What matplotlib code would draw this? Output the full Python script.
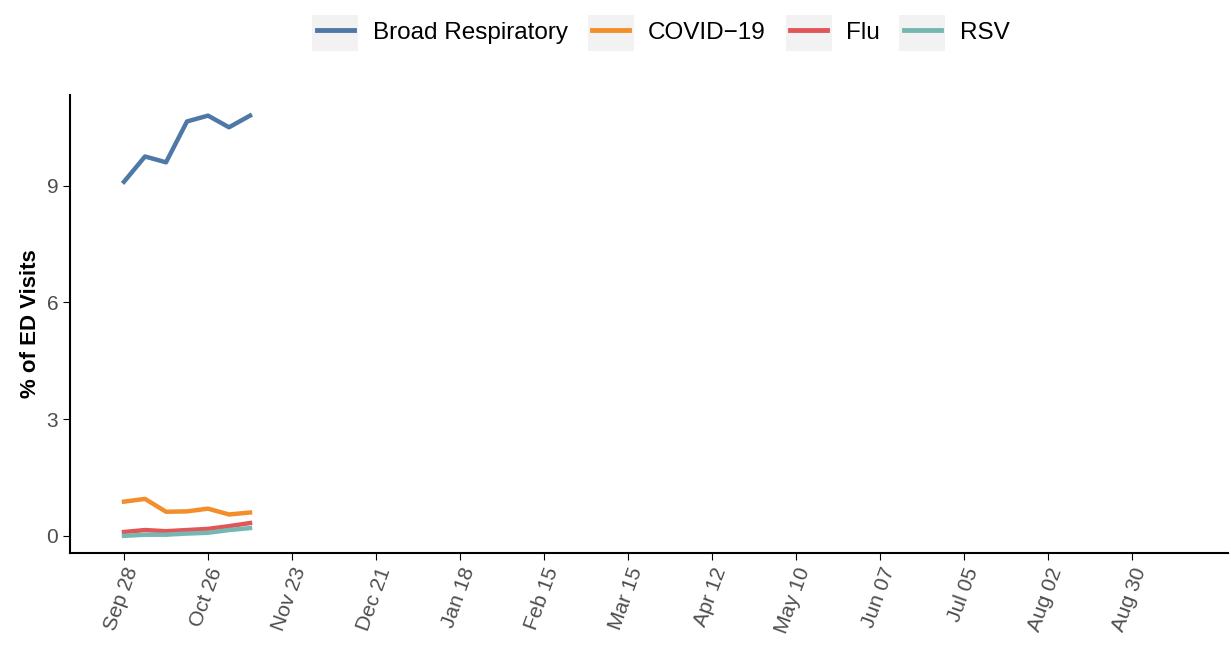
import matplotlib.pyplot as plt
import matplotlib.patches as mpatches
import datetime as dt

plt.rcParams['font.family'] = ['Liberation Sans', 'DejaVu Sans']

weeks = [dt.date(2024, 9, 28) + dt.timedelta(days=7 * i) for i in range(7)]
broad = [9.1, 9.75, 9.6, 10.65, 10.8, 10.5, 10.8]
covid = [0.88, 0.95, 0.62, 0.63, 0.70, 0.55, 0.60]
flu = [0.10, 0.15, 0.12, 0.15, 0.18, 0.25, 0.33]
rsv = [0.00, 0.03, 0.03, 0.06, 0.08, 0.15, 0.20]
series = [("Broad Respiratory", broad, "#4E79A7"), ("COVID\u221219", covid, "#F28E2B"),
          ("Flu", flu, "#E15759"), ("RSV", rsv, "#76B7B2")]
tick_dates = [dt.date(2024, 9, 28) + dt.timedelta(days=28 * i) for i in range(13)]
tick_labels = [d.strftime("%b %d") for d in tick_dates]

fig = plt.figure(figsize=(12.31, 6.56), dpi=100)
ax = fig.add_axes([70 / 1231, 1 - 553 / 656, 1158 / 1231, (553 - 95) / 656])
for name, vals, col in series:
    ax.plot(weeks, vals, color=col, lw=3.2, label=name)

ax.set_xlim(dt.date(2024, 9, 10), dt.date(2025, 10, 1))
ax.set_ylim(-0.44, 11.33)
ax.set_xticks(tick_dates)
ax.set_xticklabels(tick_labels, rotation=70, ha="right", rotation_mode="anchor",
                   fontsize=15, color="#4d4d4d")
ax.set_yticks([0, 3, 6, 9])
ax.tick_params(axis="y", labelsize=15, labelcolor="#4d4d4d", length=5)
ax.tick_params(axis="x", length=5)
for s in ["top", "right"]:
    ax.spines[s].set_visible(False)
for s in ["left", "bottom"]:
    ax.spines[s].set_linewidth(1.5)
ax.set_ylabel("% of ED Visits", fontsize=16, fontweight="bold")

leg = fig.legend(loc="upper center", bbox_to_anchor=(0.539, 1.0), ncol=4, frameon=False,
                 fontsize=17.5, handlelength=1.5, columnspacing=1.0, handletextpad=0.8)
for h in leg.legend_handles:
    h.set_linewidth(3.5)

# grey key backgrounds like ggplot
fig.canvas.draw()
inv = fig.transFigure.inverted()
r = fig.canvas.get_renderer()
for h, t in zip(leg.legend_handles, leg.get_texts()):
    xs = h.get_xdata()
    tr = h.get_transform()
    p0 = tr.transform((xs[0], 0))
    p1 = tr.transform((xs[-1], 0))
    tb = t.get_window_extent(r)
    cx, cy = (p0[0] + p1[0]) / 2, (tb.y0 + tb.y1) / 2
    w, hh = 46, 36
    (x0, y0), (x1, y1) = inv.transform([(cx - w / 2, cy - hh / 2), (cx + w / 2, cy + hh / 2)])
    fig.patches.append(mpatches.Rectangle((x0, y0), x1 - x0, y1 - y0, transform=fig.transFigure,
                                          facecolor="#f2f2f2", edgecolor="none", zorder=-1))
fig.savefig("out.png", dpi=100)
